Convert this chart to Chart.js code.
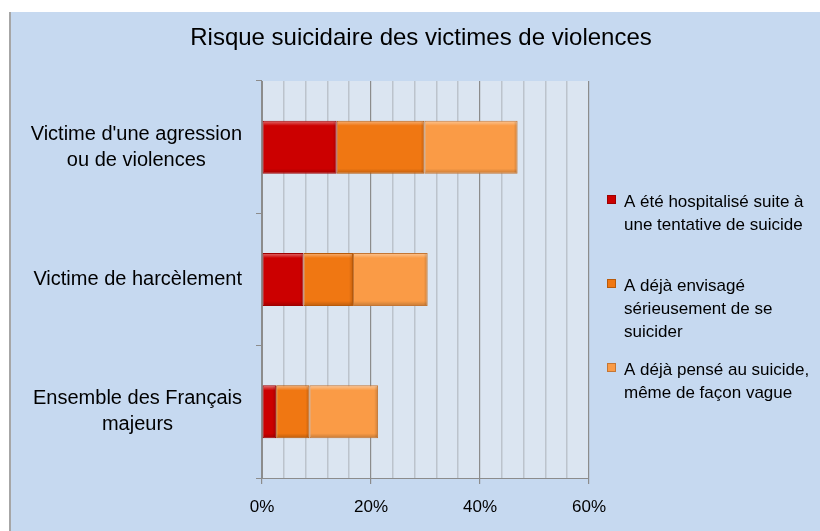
<!DOCTYPE html>
<html>
<head>
<meta charset="utf-8">
<script src="https://cdn.jsdelivr.net/npm/chart.js@4"></script>
<style>
html,body{margin:0;padding:0;background:#ffffff;width:820px;height:531px;overflow:hidden;}
#frame{position:absolute;left:9px;top:12px;width:811px;height:519px;background:#C6D9F0;border-left:2px solid #A6A6A6;box-sizing:border-box;}
canvas{position:absolute;left:0;top:0;}
</style>
</head>
<body>
<div id="frame"><canvas id="c" width="809" height="519"></canvas></div>
<script>
// ---- data ----
const chartTitle = "Risque suicidaire des victimes de violences";
const categories = [
  ["Victime d'une agression", "ou de violences"],
  ["Victime de harcèlement"],
  ["Ensemble des Français", "majeurs"]
];
const seriesLabels = [
  ["A été hospitalisé suite à", "une tentative de suicide"],
  ["A déjà envisagé", "sérieusement de se", "suicider"],
  ["A déjà pensé au suicide,", "même de façon vague"]
];
const hospitalise = [13.7, 7.6, 2.6];
const envisage = [16.1, 9.1, 6.1];
const pense = [17.1, 13.7, 12.6];
const xMin = 0, xMax = 60, xStep = 4, xLabelEvery = 20;

const colors = ["#CC0000", "#F07712", "#FA9B46"];
const borders = ["#9E0000", "#B85A0A", "#C47634"];
const FONT = "'Liberation Sans', Arial, sans-serif";

const bgPlugin = {
  id: 'plotbg',
  beforeDraw(chart) {
    const {ctx, chartArea: a} = chart;
    ctx.save();
    ctx.fillStyle = '#DBE5F1';
    ctx.fillRect(a.left, a.top, a.right - a.left, a.bottom - a.top);
    ctx.restore();
  }
};

const bevelPlugin = {
  id: 'bevel',
  afterDatasetsDraw(chart) {
    const ctx = chart.ctx;
    chart.data.datasets.forEach((ds, di) => {
      const meta = chart.getDatasetMeta(di);
      meta.data.forEach(el => {
        const p = el.getProps(['x', 'y', 'base', 'height'], true);
        const l = Math.min(p.x, p.base), r = Math.max(p.x, p.base);
        const t = p.y - p.height / 2, b = p.y + p.height / 2;
        ctx.save();
        let g = ctx.createLinearGradient(0, t, 0, t + 5);
        g.addColorStop(0, 'rgba(255,255,255,0.45)');
        g.addColorStop(1, 'rgba(255,255,255,0)');
        ctx.fillStyle = g;
        ctx.fillRect(l + 1, t + 1, r - l - 2, 5);
        g = ctx.createLinearGradient(0, b - 5, 0, b);
        g.addColorStop(0, 'rgba(0,0,0,0)');
        g.addColorStop(1, 'rgba(0,0,0,0.22)');
        ctx.fillStyle = g;
        ctx.fillRect(l + 1, b - 5, r - l - 2, 4);
        g = ctx.createLinearGradient(r - 4, 0, r, 0);
        g.addColorStop(0, 'rgba(0,0,0,0)');
        g.addColorStop(1, 'rgba(0,0,0,0.18)');
        ctx.fillStyle = g;
        ctx.fillRect(r - 4, t + 1, 3, b - t - 2);
        ctx.restore();
      });
    });
  }
};

const textPlugin = {
  id: 'texts',
  afterDraw(chart) {
    const ctx = chart.ctx;
    ctx.save();
    // title
    ctx.fillStyle = '#000000';
    ctx.font = "24px " + FONT;
    ctx.textAlign = 'center';
    ctx.textBaseline = 'middle';
    ctx.fillText(chartTitle, 410, 26);
    // category labels
    const ys = chart.scales.y;
    ctx.font = "20px " + FONT;
    const rightEdge = 231, lh = 26;
    categories.forEach((lines, i) => {
      const cy = ys.getPixelForTick(i);
      const widest = Math.max(...lines.map(s => ctx.measureText(s).width));
      const cx = rightEdge - widest / 2;
      lines.forEach((s, k) => {
        ctx.fillText(s, cx, cy + (k - (lines.length - 1) / 2) * lh);
      });
    });
    // legend
    ctx.font = "17px " + FONT;
    ctx.textAlign = 'left';
    ctx.textBaseline = 'alphabetic';
    const starts = [195, 279, 363];
    const lgh = 23;
    seriesLabels.forEach((lines, i) => {
      const by = starts[i];
      ctx.fillStyle = colors[i];
      ctx.fillRect(596, by - 12, 9, 9);
      ctx.strokeStyle = borders[i];
      ctx.lineWidth = 1;
      ctx.strokeRect(596.5, by - 11.5, 8, 8);
      ctx.fillStyle = '#000000';
      lines.forEach((s, k) => ctx.fillText(s, 613, by + k * lgh));
    });
    ctx.restore();
  }
};

new Chart(document.getElementById('c'), {
  type: 'bar',
  data: {
    labels: categories,
    datasets: [
      {label: seriesLabels[0].join(' '), data: hospitalise},
      {label: seriesLabels[1].join(' '), data: envisage},
      {label: seriesLabels[2].join(' '), data: pense}
    ].map((d, i) => Object.assign(d, {
      backgroundColor: colors[i],
      borderColor: borders[i],
      borderWidth: 1,
      borderSkipped: false,
      categoryPercentage: 1,
      barPercentage: 0.4
    }))
  },
  options: {
    indexAxis: 'y',
    responsive: false,
    animation: false,
    layout: {padding: {top: 69, right: 231, left: 0, bottom: 0}},
    plugins: {legend: {display: false}, title: {display: false}, tooltip: {enabled: false}},
    scales: {
      x: {
        type: 'linear', stacked: true, min: xMin, max: xMax,
        afterFit(s) { s.height = 53; },
        border: {display: true, color: '#8C8C8C', width: 1},
        grid: {
          drawOnChartArea: true, drawTicks: true, tickLength: 6,
          color: c => (c.tick && c.tick.value % xLabelEvery === 0) ? '#8C8C8C' : '#BCC3CC',
          lineWidth: c => (c.tick && c.tick.value % xLabelEvery === 0) ? 1.2 : 1.5,
          tickColor: c => (c.tick && c.tick.value % xLabelEvery === 0) ? '#8C8C8C' : 'rgba(0,0,0,0)'
        },
        ticks: {
          stepSize: xStep, autoSkip: false, maxRotation: 0, padding: 13,
          color: '#000000', font: {family: FONT, size: 17},
          callback: v => (v % xLabelEvery === 0) ? v + '%' : ''
        }
      },
      y: {
        type: 'category', stacked: true,
        afterFit(s) { s.width = 251; },
        border: {display: true, color: '#8C8C8C', width: 1},
        grid: {offset: true, drawOnChartArea: false, drawTicks: true, tickLength: 6, color: '#8C8C8C', tickColor: '#8C8C8C'},
        ticks: {display: false}
      }
    }
  },
  plugins: [bgPlugin, bevelPlugin, textPlugin]
});
</script>
</body>
</html>
